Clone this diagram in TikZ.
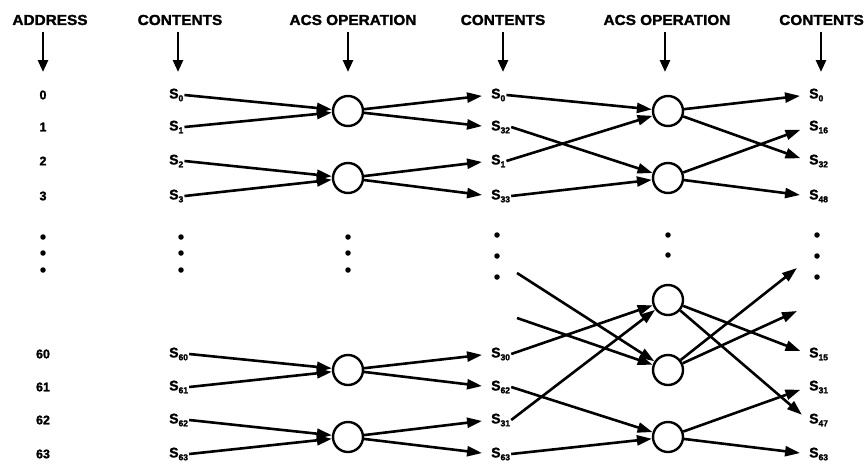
\documentclass[tikz,border=0pt]{standalone}
\usepackage{fontspec}
\setmainfont{Liberation Sans}
% heavy grotesque used for every label
\newfontfamily\hfont{Liberation Sans Bold}[FakeBold=1.6, FakeStretch=1.06]
\newfontfamily\lfont{Liberation Sans Bold}[FakeBold=1.6]
\newfontfamily\sfont{Liberation Sans Bold}[FakeBold=2.2]
\usetikzlibrary{arrows.meta}
\newcommand\ssub[1]{\raisebox{-2.8pt}{\sfont\fontsize{8.5}{9}\selectfont #1}}
\tikzset{
  hdr/.style={font=\hfont\fontsize{14.5}{16}\selectfont, inner sep=0pt},
  num/.style={font=\lfont\fontsize{12.5}{14}\selectfont, inner sep=0pt},
  slab/.style={font=\lfont\fontsize{14}{15}\selectfont, anchor=west, inner sep=1pt},
  acs/.style={circle, draw, line width=2.4pt, minimum size=30pt, inner sep=0pt},
  conn/.style={line width=2.6pt, -{Triangle[length=15pt,width=10pt]}},
  hdarrow/.style={line width=2.6pt, -{Triangle[length=12pt,width=10pt]}},
  into/.style={conn, shorten >=8pt},
  dotm/.style={circle, fill, inner sep=0pt, minimum size=5.5pt}
}
\begin{document}
\begin{tikzpicture}[x=1pt,y=-1pt]
\useasboundingbox (0,0) rectangle (865,464);

% column headings with their arrows
\node[hdr] (hA) at (50,20) {ADDRESS};
\node[hdr] (hC1) at (180,20) {CONTENTS};
\node[hdr] (hO1) at (353,20) {ACS OPERATION};
\node[hdr] (hC2) at (503,20) {CONTENTS};
\node[hdr] (hO2) at (667,20) {ACS OPERATION};
\node[hdr, anchor=east] (hC3) at (864,20) {CONTENTS};
\foreach \n/\x in {A/43, C1/178, O1/348, C2/503, O2/665, C3/821}{
  \coordinate (t\n) at (\x,32);
  \coordinate (b\n) at (\x,72);
  \draw[hdarrow] (t\n) -- (b\n);
}

% addresses
\foreach \a/\y in {0/95, 1/127, 2/161, 3/196, 60/354, 61/387, 62/420, 63/454}
  \node[num] (ad\a) at (43,\y) {\a};

% first contents column
\foreach \a/\y in {0/95, 1/127, 2/161, 3/196, 60/354, 61/387, 62/420, 63/454}
  \node[slab] (p\a) at (168,\y) {S\ssub{\a}};

% second contents column
\foreach \n/\s/\y in {a/0/95, b/32/127, c/1/161, d/33/196, e/30/354, f/62/387, g/31/420, h/63/454}
  \node[slab] (q\n) at (490,\y) {S\ssub{\s}};

% third contents column
\foreach \n/\s/\y in {a/0/95, b/16/127, c/32/161, d/48/196, e/15/354, f/31/387, g/47/420, h/63/454}
  \node[slab] (r\n) at (808,\y) {S\ssub{\s}};

% first ACS stage
\node[acs] (u1) at (348,111) {};
\node[acs] (u2) at (348,178) {};
\node[acs] (u3) at (348,370) {};
\node[acs] (u4) at (348,437) {};

% second ACS stage
\node[acs] (v1) at (668,111) {};
\node[acs] (v2) at (668,178) {};
\node[acs] (v3) at (668,300) {};
\node[acs] (v4) at (668,370) {};
\node[acs] (v5) at (668,437) {};

% ellipsis dots
\foreach \x in {43,181,348}
  \foreach \y [count=\k] in {237,253,270}
    \node[dotm] (dl\x-\k) at (\x,\y) {};
\foreach \x in {497,817}
  \foreach \y [count=\k] in {235,256,277}
    \node[dotm] (dr\x-\k) at (\x,\y) {};
\node[dotm] (dm1) at (668,235) {};
\node[dotm] (dm2) at (668,255) {};

% stage 1 inputs
\draw[conn] (p0.east) -- (u1);
\draw[conn] (p1.east) -- (u1);
\draw[conn] (p2.east) -- (u2);
\draw[conn] (p3.east) -- (u2);
\draw[conn] (p60.east) -- (u3);
\draw[conn] (p61.east) -- (u3);
\draw[conn] (p62.east) -- (u4);
\draw[conn] (p63.east) -- (u4);

% stage 1 outputs
\draw[into] (u1) -- (qa.west);
\draw[into] (u1) -- (qb.west);
\draw[into] (u2) -- (qc.west);
\draw[into] (u2) -- (qd.west);
\draw[into] (u3) -- (qe.west);
\draw[into] (u3) -- (qf.west);
\draw[into] (u4) -- (qg.west);
\draw[into] (u4) -- (qh.west);

% stage 2 inputs
\coordinate (fi1) at (517,273);
\coordinate (fi2) at (517,318);
\draw[conn] (qa.east) -- (v1);
\draw[conn] (qc.east) -- (v1);
\draw[conn] (qb.east) -- (v2);
\draw[conn] (qd.east) -- (v2);
\draw[conn] (qe.east) -- (v3);
\draw[conn] (qg.east) -- (v3);
\draw[conn] (fi1) -- (v4);
\draw[conn] (fi2) -- (v4);
\draw[conn] (qf.east) -- (v5);
\draw[conn] (qh.east) -- (v5);

% stage 2 outputs
\coordinate (fo1) at (797,268);
\coordinate (fo2) at (797,311);
\draw[into] (v1) -- (ra.west);
\draw[into] (v1) -- (rc.west);
\draw[into] (v2) -- (rb.west);
\draw[into] (v2) -- (rd.west);
\draw[into] (v3) -- (re.west);
\draw[into] (v3) -- (rg.west);
\draw[conn] (v4) -- (fo1);
\draw[conn] (v4) -- (fo2);
\draw[into] (v5) -- (rf.west);
\draw[into] (v5) -- (rh.west);
\end{tikzpicture}
\end{document}
